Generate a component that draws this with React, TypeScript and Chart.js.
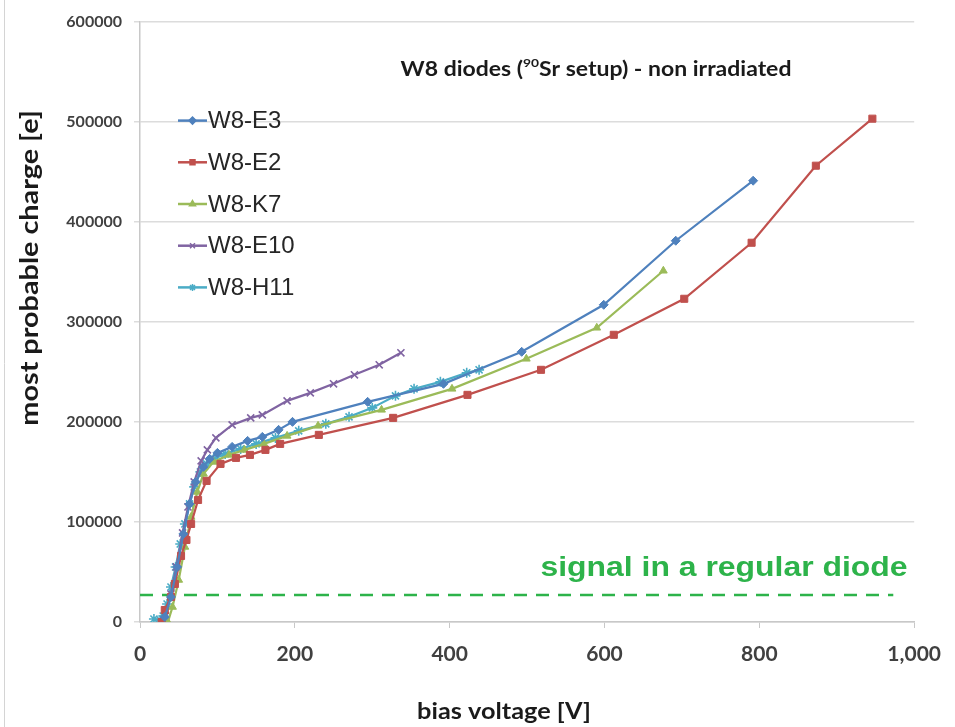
import React, { useEffect, useRef } from "react";
import { Chart, registerables } from "chart.js";
import { drawPoint } from "chart.js/helpers";

Chart.register(...registerables);

// ---- data (bias voltage [V], most probable charge [e]) ----
const e3Voltage = [32, 40, 48, 56, 64, 72, 82, 90, 100, 119, 139, 158, 179, 197, 294, 392, 493, 599, 692, 792];
const e3Charge = [5000, 25000, 55000, 88000, 118000, 140000, 155000, 163000, 169000, 175000, 181000, 185000, 192000, 200000, 220000, 238000, 270000, 317000, 381000, 441000];

const e2Voltage = [28, 32, 40, 45, 53, 60, 66, 75, 86, 104, 124, 142, 162, 181, 231, 327, 423, 518, 612, 703, 790, 873, 946];
const e2Charge = [0, 12000, 25000, 38000, 66000, 82000, 98000, 122000, 141000, 158000, 164000, 167000, 172000, 178000, 187000, 204000, 227000, 252000, 287000, 323000, 379000, 456000, 503000];

const k7Voltage = [36, 42, 50, 58, 66, 74, 82, 95, 115, 135, 160, 190, 230, 312, 403, 499, 590, 676];
const k7Charge = [0, 15000, 42000, 75000, 105000, 130000, 148000, 160000, 167000, 172000, 178000, 186000, 196000, 212000, 233000, 263000, 294000, 351000];

const e10Voltage = [33, 40, 47, 55, 62, 70, 79, 87, 98, 119, 143, 158, 190, 220, 250, 277, 309, 337];
const e10Charge = [6000, 28000, 55000, 89000, 115000, 140000, 161000, 172000, 184000, 197000, 204000, 207000, 221000, 229000, 238000, 247000, 257000, 269000];

const h11Voltage = [18, 26, 30, 35, 40, 46, 52, 58, 64, 70, 78, 86, 95, 110, 130, 150, 175, 205, 240, 270, 300, 330, 354, 388, 422, 438];
const h11Charge = [3000, 2000, 6000, 18000, 35000, 55000, 78000, 98000, 118000, 135000, 150000, 158000, 163000, 168000, 173000, 178000, 184000, 191000, 198000, 205000, 214000, 226000, 233000, 240000, 249000, 252000];

const seriesNames = ["W8-E3", "W8-E2", "W8-K7", "W8-E10", "W8-H11"];
const seriesColors = ["#4F81BD", "#C0504D", "#9BBB59", "#8064A2", "#4BACC6"];
const seriesMarkers = ["rectRot", "rect", "triangle", "crossRot", "star"];
const seriesVoltages = [e3Voltage, e2Voltage, k7Voltage, e10Voltage, h11Voltage];
const seriesCharges = [e3Charge, e2Charge, k7Charge, e10Charge, h11Charge];

const signalLevel = 27000;
const signalVoltageSpan = [0, 973];
const signalLabel = "signal in a regular diode";
const signalColor = "#2DB34A";

const xMin = 0, xMax = 1000, xStep = 200;
const yMin = 0, yMax = 600000, yStep = 100000;

const titleParts = ["W8 diodes (", "90", "Sr setup) - non irradiated"];
const xTitle = "bias voltage [V]";
const yTitle = "most probable charge [e]";

const AXIS_FONT = "Lato, 'Open Sans', sans-serif";
const LEGEND_FONT = "'Liberation Sans', Arial, sans-serif";

function fillStretched(ctx: CanvasRenderingContext2D, text: string, x: number, y: number, sx: number) {
  ctx.save();
  ctx.translate(x, y);
  ctx.scale(sx, 1);
  ctx.fillText(text, 0, 0);
  ctx.restore();
}

const overlayPlugin = {
  id: "overlay",
  afterDraw(chart: any) {
    const ctx = chart.ctx as CanvasRenderingContext2D;
    const a = chart.chartArea;
    ctx.save();

    // frame line at left
    ctx.strokeStyle = "#d4d4d4";
    ctx.lineWidth = 1;
    ctx.beginPath();
    ctx.moveTo(4.5, 0);
    ctx.lineTo(4.5, chart.height);
    ctx.stroke();

    // title (with superscript)
    ctx.fillStyle = "#1a1a1a";
    ctx.textBaseline = "middle";
    const sxT = 1.15;
    const big = "bold 20px " + AXIS_FONT;
    const small = "bold 12px " + AXIS_FONT;
    ctx.font = big;
    const w0 = ctx.measureText(titleParts[0]).width;
    const w2 = ctx.measureText(titleParts[2]).width;
    ctx.font = small;
    const w1 = ctx.measureText(titleParts[1]).width;
    const total = (w0 + w1 + w2) * sxT;
    const cx = 596;
    const ty = a.top + 48;
    ctx.save();
    ctx.translate(cx - total / 2, ty);
    ctx.scale(sxT, 1);
    ctx.textAlign = "left";
    ctx.font = big;
    ctx.fillText(titleParts[0], 0, 0);
    ctx.font = small;
    ctx.fillText(titleParts[1], w0, -6);
    ctx.font = big;
    ctx.fillText(titleParts[2], w0 + w1, 0);
    ctx.restore();

    // legend
    ctx.font = "24px " + LEGEND_FONT;
    for (let i = 0; i < seriesNames.length; i++) {
      const ly = a.top + 99 + i * 41.7;
      const lx0 = a.left + 38;
      const lx1 = a.left + 67;
      ctx.strokeStyle = seriesColors[i];
      ctx.fillStyle = seriesColors[i];
      ctx.lineWidth = 2.5;
      ctx.beginPath();
      ctx.moveTo(lx0, ly);
      ctx.lineTo(lx1, ly);
      ctx.stroke();
      ctx.lineWidth = 1.5;
      drawPoint(ctx, { pointStyle: seriesMarkers[i], radius: 3.5, rotation: 0, borderWidth: 1.5 } as any, (lx0 + lx1) / 2, ly);
      ctx.fillStyle = "#262626";
      ctx.textAlign = "left";
      ctx.fillText(seriesNames[i], lx1 + 1, ly + 1);
    }

    // signal label
    const ys = chart.scales.y;
    ctx.font = "bold 28px " + LEGEND_FONT;
    ctx.fillStyle = signalColor;
    ctx.textAlign = "center";
    fillStretched(ctx, signalLabel, 724, ys.getPixelForValue(signalLevel) - 27, 1.14);

    // axis titles
    ctx.fillStyle = "#1a1a1a";
    ctx.font = "bold 23px " + AXIS_FONT;
    ctx.textAlign = "center";
    fillStretched(ctx, xTitle, 504, chart.height - 15, 1.1);
    ctx.save();
    ctx.translate(30, 268);
    ctx.rotate(-Math.PI / 2);
    ctx.font = "bold 24px " + AXIS_FONT;
    fillStretched(ctx, yTitle, 0, 0, 1.2);
    ctx.restore();

    ctx.restore();
  },
};

export default function App() {
  const ref = useRef<HTMLCanvasElement | null>(null);
  useEffect(() => {
    if (!ref.current) return;
    const datasets: any[] = seriesNames.map((name, i) => ({
      label: name,
      data: seriesVoltages[i].map((v, j) => ({ x: v, y: seriesCharges[i][j] })),
      borderColor: seriesColors[i],
      backgroundColor: seriesColors[i],
      borderWidth: 2.2,
      pointStyle: seriesMarkers[i],
      pointRadius: i === 1 ? 5 : i >= 3 ? 5 : 4.5,
      pointBorderWidth: i >= 3 ? 1.6 : 1,
      pointBorderColor: seriesColors[i],
      pointBackgroundColor: seriesColors[i],
      tension: 0,
      fill: false,
    }));
    datasets.push({
      label: signalLabel,
      data: signalVoltageSpan.map((v) => ({ x: v, y: signalLevel })),
      borderColor: signalColor,
      borderWidth: 2.5,
      borderDash: [13, 9],
      pointRadius: 0,
      fill: false,
    });
    const chart = new Chart(ref.current, {
      type: "line",
      data: { datasets },
      options: {
        responsive: false,
        animation: false,
        layout: { padding: { left: 0, right: 34, top: 19, bottom: 0 } },
        plugins: { legend: { display: false }, tooltip: { enabled: false }, title: { display: false } },
        scales: {
          x: {
            type: "linear",
            min: xMin,
            max: xMax,
            afterFit: (s: any) => { s.height = 105; },
            ticks: {
              stepSize: xStep,
              padding: 14,
              color: "#404040",
              font: { family: AXIS_FONT, weight: "bold", size: 21 },
              callback: (v: any) => Number(v).toLocaleString("en-US"),
            },
            grid: { display: true, drawOnChartArea: false, drawTicks: true, tickLength: 6, color: "#c8c8c8" },
            border: { display: true, color: "#c8c8c8", width: 1.5 },
          },
          y: {
            type: "linear",
            min: yMin,
            max: yMax,
            afterFit: (s: any) => { s.width = 140; },
            ticks: {
              stepSize: yStep,
              padding: 12,
              color: "#404040",
              font: { family: AXIS_FONT, weight: "bold", size: 16 },
              callback: (v: any) => String(v),
            },
            grid: { color: "#dcdcdc", lineWidth: 1.5, drawTicks: true, tickLength: 6 },
            border: { display: true, color: "#c8c8c8", width: 1.5 },
          },
        },
      },
      plugins: [overlayPlugin],
    } as any);
    return () => chart.destroy();
  }, []);
  return (
    <div style={{ position: "absolute", left: 0, top: 0, width: 955, height: 727, background: "#fff" }}>
      <canvas ref={ref} width={955} height={727} style={{ display: "block" }} />
    </div>
  );
}
